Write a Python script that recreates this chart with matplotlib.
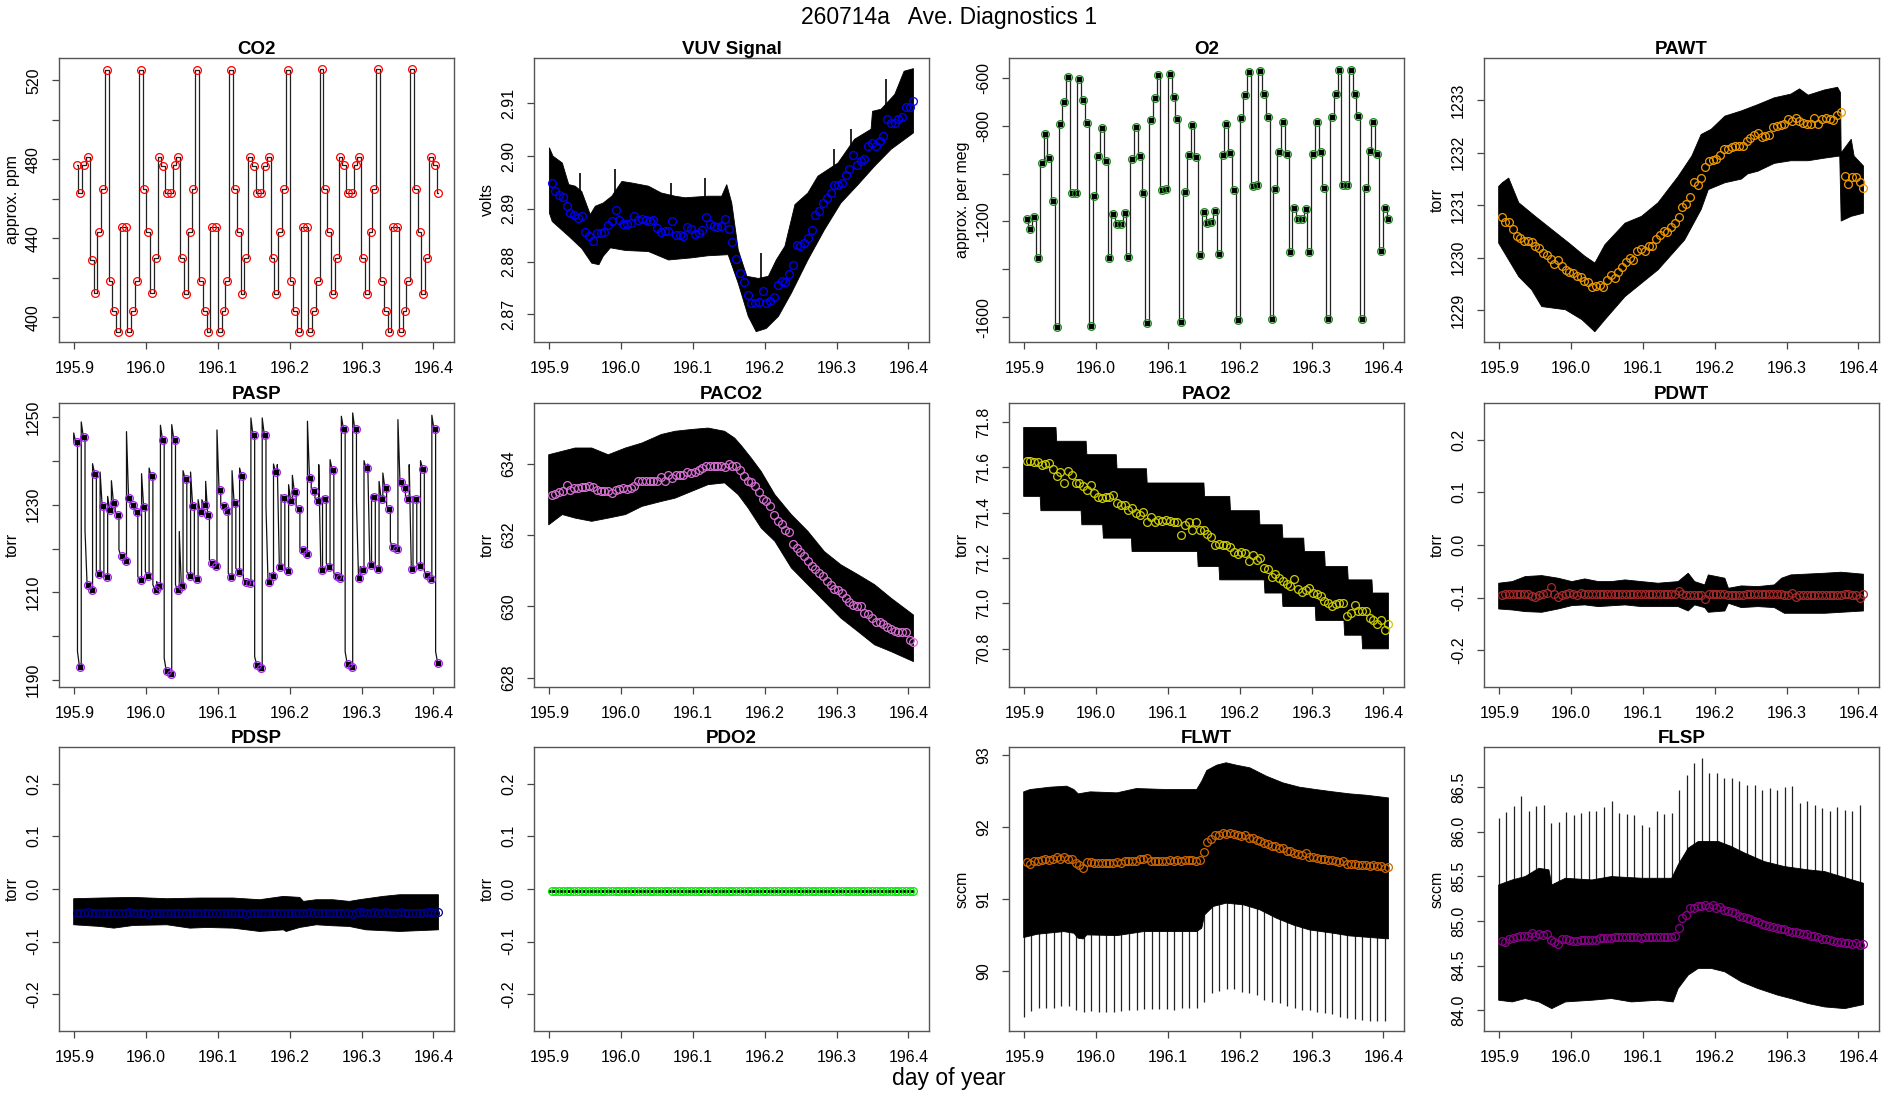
import numpy as np
import matplotlib
matplotlib.use('Agg')
import matplotlib.pyplot as plt

plt.rcParams['font.family'] = ['Liberation Sans', 'DejaVu Sans']

# sample grid of the averaged points (day of year)
t0 = 195.903
dt = 0.00525
# grid of the flow-check spikes
spk_t0 = 195.899
spk_dt = 0.01048

# ---------------- averaged points ----------------
co2 = [477, 463, 477, 481, 428.8, 412.4, 443, 465, 525.4, 418.6,
       403.4, 392.7, 445.9, 445.9, 392.7, 403.4, 418.6, 525.4, 465, 443,
       412.4, 429.8, 481, 476.5, 463, 463, 477, 481, 429.8, 412,
       443, 465, 525.3, 418.6, 403.4, 392.7, 445.9, 445.9, 392.7, 403.4,
       418.6, 525.3, 465, 443, 412, 429.8, 481, 476.5, 463, 463,
       476.5, 481, 429.8, 412, 443, 465, 525.4, 418.6, 403.4, 392.7,
       445.9, 445.9, 392.7, 403.4, 418.6, 525.6, 465, 443, 412, 429.8,
       481, 477, 463, 463, 477, 481, 429.8, 412, 443, 465,
       525.8, 418.6, 403.4, 392.7, 445.9, 445.9, 392.7, 403.4, 418.6, 525.8,
       465, 443, 412, 429.8, 481, 477, 463]

vuv = [2.8949, 2.8933, 2.8927, 2.8922, 2.8905, 2.8893, 2.8889, 2.8883, 2.8887, 2.8856,
       2.8848, 2.8839, 2.8854, 2.8855, 2.8857, 2.8870, 2.8876, 2.8897, 2.8879, 2.8872,
       2.8871, 2.8873, 2.8886, 2.8878, 2.8881, 2.8878, 2.8877, 2.8878, 2.8864, 2.8856,
       2.8858, 2.8858, 2.8876, 2.8851, 2.8850, 2.8848, 2.8865, 2.8862, 2.8853, 2.8855,
       2.8860, 2.8884, 2.8871, 2.8867, 2.8865, 2.8867, 2.8881, 2.8862, 2.8838, 2.8805,
       2.8778, 2.8762, 2.8737, 2.8721, 2.8721, 2.8723, 2.8744, 2.8721, 2.8726, 2.8732,
       2.8755, 2.8764, 2.8761, 2.8776, 2.8794, 2.8832, 2.8829, 2.8835, 2.8845, 2.8860,
       2.8889, 2.8895, 2.8912, 2.8921, 2.8930, 2.8945, 2.8946, 2.8949, 2.8965, 2.8976,
       2.9003, 2.8984, 2.8990, 2.8995, 2.9019, 2.9025, 2.9020, 2.9028, 2.9039, 2.9071,
       2.9063, 2.9062, 2.9070, 2.9075, 2.9094, 2.9094, 2.9104]

o2 = [-1191, -1232, -1183, -1354, -957, -837, -935, -1115, -1642, -792,
      -702, -597, -1083, -1080, -606, -693, -790, -1635, -1094, -928,
      -811, -949, -1354, -1170, -1212, -1212, -1165, -1349, -938, -806,
      -928, -1083, -1625, -777, -684, -589, -1069, -1064, -586, -681,
      -774, -1620, -1077, -921, -797, -932, -1339, -1161, -1207, -1204,
      -1158, -1336, -924, -792, -914, -1070, -1611, -767, -673, -576,
      -1052, -1050, -572, -670, -765, -1608, -1063, -911, -787, -918,
      -1329, -1145, -1190, -1190, -1148, -1327, -918, -787, -910, -1062,
      -1607, -765, -670, -569, -1046, -1046, -568, -667, -762, -1607,
      -1062, -908, -785, -917, -1325, -1145, -1191]

pawt = [1230.771, 1230.682, 1230.675, 1230.554, 1230.421, 1230.376, 1230.325, 1230.325, 1230.293, 1230.217,
        1230.185, 1230.089, 1230.045, 1229.975, 1229.879, 1229.962, 1229.835, 1229.771, 1229.726, 1229.707,
        1229.644, 1229.631, 1229.567, 1229.535, 1229.440, 1229.465, 1229.478, 1229.440, 1229.580, 1229.675,
        1229.624, 1229.726, 1229.815, 1229.911, 1229.994, 1229.962, 1230.134, 1230.166, 1230.121, 1230.217,
        1230.229, 1230.357, 1230.440, 1230.516, 1230.491, 1230.580, 1230.663, 1230.771, 1230.962, 1231.026,
        1231.153, 1231.440, 1231.382, 1231.529, 1231.733, 1231.854, 1231.873, 1231.885, 1231.962, 1232.077,
        1232.077, 1232.115, 1232.127, 1232.127, 1232.140, 1232.223, 1232.287, 1232.350, 1232.382, 1232.299,
        1232.319, 1232.350, 1232.497, 1232.510, 1232.529, 1232.554, 1232.650, 1232.605, 1232.669, 1232.605,
        1232.561, 1232.554, 1232.541, 1232.656, 1232.554, 1232.650, 1232.669, 1232.637, 1232.624, 1232.713,
        1232.777, 1231.554, 1231.408, 1231.535, 1231.541, 1231.440, 1231.325]

pasp = [1244.22, 1192.96, 1245.44, 1211.75, 1210.61, 1237.07, 1214.26, 1229.62, 1213.42, 1228.86,
        1230.38, 1227.57, 1218.21, 1217.22, 1231.52, 1229.85, 1228.25, 1212.74, 1229.39, 1213.80,
        1236.46, 1210.61, 1211.37, 1244.83, 1192.20, 1191.44, 1244.83, 1210.61, 1211.37, 1235.93,
        1213.80, 1229.62, 1213.04, 1228.33, 1229.85, 1227.57, 1216.69, 1216.08, 1233.42, 1229.62,
        1228.63, 1213.42, 1230.38, 1214.64, 1236.62, 1212.36, 1212.13, 1245.82, 1193.49, 1192.73,
        1245.97, 1212.28, 1213.80, 1237.45, 1215.70, 1231.52, 1214.94, 1230.91, 1232.81, 1229.09,
        1219.58, 1218.82, 1236.08, 1233.04, 1230.91, 1215.17, 1231.37, 1215.78, 1237.98, 1213.80,
        1213.27, 1247.26, 1193.72, 1192.96, 1247.26, 1213.27, 1215.02, 1238.36, 1216.16, 1231.67,
        1215.32, 1231.29, 1233.80, 1229.09, 1220.26, 1219.88, 1235.09, 1233.80, 1231.29, 1215.32,
        1231.37, 1215.93, 1238.21, 1214.03, 1213.12, 1247.26, 1193.88]
# top of the pressure overshoot at the start of each sample
pasp_peak = [1246.35, 1196.54, 1248.86, 1224.07, 1211.75, 1239.35, 1214.79, 1237.45, 1214.03, 1231.90,
             1235.47, 1228.48, 1219.73, 1217.83, 1246.65, 1230.38, 1228.86, 1213.65, 1237.07, 1214.79,
             1238.36, 1211.75, 1212.51, 1248.10, 1195.02, 1191.97, 1248.25, 1211.75, 1223.92, 1237.76,
             1214.79, 1237.45, 1213.65, 1231.14, 1231.14, 1235.32, 1217.45, 1216.69, 1247.03, 1230.00,
             1229.24, 1214.41, 1237.76, 1215.55, 1238.36, 1212.89, 1212.51, 1249.77, 1195.40, 1193.11,
             1249.77, 1229.47, 1214.41, 1239.28, 1239.12, 1232.28, 1215.70, 1234.56, 1236.69, 1229.62,
             1220.11, 1219.35, 1249.01, 1233.80, 1231.52, 1239.12, 1231.90, 1216.69, 1240.27, 1214.41,
             1214.03, 1250.15, 1196.54, 1193.49, 1250.91, 1230.76, 1215.93, 1240.04, 1239.28, 1232.28,
             1215.93, 1235.32, 1237.22, 1229.62, 1221.63, 1220.49, 1249.39, 1234.56, 1231.90, 1239.12,
             1231.90, 1216.69, 1240.04, 1214.79, 1213.65, 1250.38, 1196.54]

paco2 = [633.119, 633.166, 633.203, 633.250, 633.419, 633.278, 633.325, 633.325, 633.344, 633.353,
         633.391, 633.344, 633.259, 633.250, 633.231, 633.231, 633.184, 633.278, 633.306, 633.325,
         633.306, 633.325, 633.391, 633.513, 633.513, 633.513, 633.513, 633.513, 633.513, 633.625,
         633.513, 633.681, 633.606, 633.700, 633.700, 633.681, 633.775, 633.747, 633.775, 633.841,
         633.888, 633.934, 633.934, 633.934, 633.934, 633.953, 633.916, 634.000, 633.934, 633.934,
         633.841, 633.653, 633.531, 633.484, 633.391, 633.213, 633.025, 632.950, 632.828, 632.575,
         632.388, 632.313, 632.153, 632.088, 631.747, 631.638, 631.516, 631.403, 631.263, 631.141,
         631.056, 630.934, 630.841, 630.700, 630.606, 630.494, 630.466, 630.372, 630.250, 630.119,
         630.044, 630.025, 630.016, 629.809, 629.781, 629.669, 629.556, 629.575, 629.500, 629.434,
         629.359, 629.322, 629.294, 629.275, 629.294, 629.059, 628.994]

pao2 = [71.628, 71.629, 71.624, 71.622, 71.612, 71.615, 71.619, 71.594, 71.563, 71.579,
        71.529, 71.584, 71.568, 71.529, 71.529, 71.519, 71.500, 71.524, 71.487, 71.468,
        71.465, 71.468, 71.469, 71.479, 71.443, 71.432, 71.434, 71.410, 71.421, 71.399,
        71.391, 71.403, 71.357, 71.381, 71.357, 71.369, 71.362, 71.369, 71.362, 71.359,
        71.359, 71.300, 71.344, 71.357, 71.325, 71.357, 71.322, 71.325, 71.307, 71.293,
        71.259, 71.263, 71.259, 71.259, 71.251, 71.229, 71.219, 71.229, 71.222, 71.188,
        71.212, 71.190, 71.200, 71.156, 71.153, 71.115, 71.131, 71.112, 71.097, 71.087,
        71.078, 71.107, 71.065, 71.050, 71.060, 71.068, 71.046, 71.041, 71.035, 71.012,
        71.001, 70.987, 70.999, 71.001, 71.004, 70.943, 70.957, 70.994, 70.969, 70.965,
        70.965, 70.935, 70.925, 70.909, 70.925, 70.884, 70.909]

pdwt = [-0.0949, -0.0937, -0.0937, -0.0937, -0.0937, -0.0937, -0.0937, -0.0937, -0.0962, -0.0981,
        -0.0949, -0.0937, -0.0918, -0.0803, -0.0937, -0.0981, -0.0949, -0.0930, -0.0918, -0.0937,
        -0.0949, -0.0918, -0.0930, -0.0937, -0.0937, -0.0937, -0.0937, -0.0930, -0.0937, -0.0937,
        -0.0937, -0.0937, -0.0930, -0.0937, -0.0937, -0.0930, -0.0937, -0.0937, -0.0937, -0.0937,
        -0.0937, -0.0937, -0.0937, -0.0937, -0.0937, -0.0937, -0.0937, -0.0873, -0.0937, -0.0943,
        -0.0943, -0.0943, -0.0943, -0.0943, -0.1025, -0.0937, -0.0937, -0.0937, -0.0937, -0.0937,
        -0.0943, -0.0943, -0.0943, -0.0943, -0.0943, -0.0937, -0.0937, -0.0937, -0.0937, -0.0937,
        -0.0937, -0.0937, -0.0937, -0.0937, -0.0937, -0.0943, -0.0943, -0.0918, -0.0981, -0.0949,
        -0.0943, -0.0943, -0.0943, -0.0943, -0.0943, -0.0943, -0.0943, -0.0943, -0.0943, -0.0943,
        -0.0943, -0.0937, -0.0937, -0.0943, -0.0943, -0.1013, -0.0924]

pdsp = [-0.0457, -0.0457, -0.0450, -0.0444, -0.0457, -0.0457, -0.0463, -0.0457, -0.0457, -0.0450,
        -0.0457, -0.0457, -0.0463, -0.0457, -0.0444, -0.0457, -0.0463, -0.0457, -0.0450, -0.0476,
        -0.0457, -0.0457, -0.0463, -0.0457, -0.0457, -0.0457, -0.0463, -0.0457, -0.0457, -0.0457,
        -0.0457, -0.0463, -0.0463, -0.0457, -0.0457, -0.0463, -0.0463, -0.0457, -0.0450, -0.0457,
        -0.0457, -0.0463, -0.0457, -0.0457, -0.0463, -0.0476, -0.0457, -0.0457, -0.0457, -0.0457,
        -0.0457, -0.0450, -0.0457, -0.0457, -0.0457, -0.0457, -0.0457, -0.0457, -0.0457, -0.0457,
        -0.0457, -0.0450, -0.0444, -0.0457, -0.0457, -0.0457, -0.0457, -0.0457, -0.0450, -0.0457,
        -0.0457, -0.0463, -0.0463, -0.0476, -0.0463, -0.0444, -0.0444, -0.0450, -0.0450, -0.0444,
        -0.0457, -0.0457, -0.0444, -0.0450, -0.0457, -0.0457, -0.0444, -0.0450, -0.0457, -0.0457,
        -0.0450, -0.0457, -0.0450, -0.0444, -0.0444, -0.0450, -0.0444]

pdo2 = [-0.0038, -0.0038, -0.0038, -0.0038, -0.0038, -0.0038, -0.0038, -0.0038, -0.0038, -0.0038,
        -0.0038, -0.0038, -0.0038, -0.0038, -0.0038, -0.0038, -0.0038, -0.0038, -0.0038, -0.0038,
        -0.0038, -0.0038, -0.0038, -0.0038, -0.0038, -0.0038, -0.0038, -0.0038, -0.0038, -0.0038,
        -0.0038, -0.0038, -0.0038, -0.0038, -0.0038, -0.0038, -0.0038, -0.0038, -0.0038, -0.0038,
        -0.0038, -0.0038, -0.0038, -0.0038, -0.0038, -0.0038, -0.0038, -0.0038, -0.0038, -0.0038,
        -0.0038, -0.0038, -0.0038, -0.0038, -0.0038, -0.0038, -0.0038, -0.0038, -0.0038, -0.0038,
        -0.0038, -0.0038, -0.0038, -0.0038, -0.0038, -0.0038, -0.0038, -0.0038, -0.0038, -0.0038,
        -0.0038, -0.0038, -0.0038, -0.0038, -0.0038, -0.0038, -0.0038, -0.0038, -0.0038, -0.0038,
        -0.0038, -0.0038, -0.0038, -0.0038, -0.0038, -0.0038, -0.0038, -0.0038, -0.0038, -0.0038,
        -0.0038, -0.0038, -0.0038, -0.0038, -0.0038, -0.0038, -0.0038]

flwt = [91.508, 91.484, 91.522, 91.531, 91.545, 91.554, 91.545, 91.559, 91.577, 91.554,
        91.577, 91.554, 91.559, 91.498, 91.475, 91.429, 91.508, 91.508, 91.498, 91.498,
        91.498, 91.494, 91.498, 91.494, 91.508, 91.498, 91.522, 91.522, 91.531, 91.531,
        91.554, 91.554, 91.568, 91.531, 91.531, 91.522, 91.531, 91.531, 91.536, 91.531,
        91.536, 91.531, 91.536, 91.540, 91.536, 91.531, 91.545, 91.647, 91.791, 91.833,
        91.893, 91.884, 91.912, 91.907, 91.921, 91.902, 91.893, 91.879, 91.893, 91.847,
        91.847, 91.824, 91.800, 91.777, 91.763, 91.740, 91.731, 91.707, 91.703, 91.670,
        91.661, 91.638, 91.628, 91.605, 91.638, 91.582, 91.577, 91.568, 91.559, 91.554,
        91.545, 91.536, 91.531, 91.512, 91.522, 91.489, 91.489, 91.484, 91.475, 91.475,
        91.466, 91.461, 91.466, 91.452, 91.461, 91.429, 91.438]

flsp = [84.775, 84.760, 84.798, 84.813, 84.824, 84.832, 84.832, 84.832, 84.862, 84.835,
        84.854, 84.843, 84.850, 84.787, 84.768, 84.738, 84.794, 84.794, 84.787, 84.779,
        84.779, 84.787, 84.787, 84.787, 84.787, 84.787, 84.805, 84.805, 84.805, 84.813,
        84.817, 84.817, 84.817, 84.817, 84.824, 84.817, 84.817, 84.813, 84.817, 84.817,
        84.817, 84.820, 84.820, 84.824, 84.817, 84.817, 84.832, 84.925, 85.037, 85.067,
        85.142, 85.150, 85.172, 85.172, 85.180, 85.161, 85.180, 85.150, 85.161, 85.124,
        85.116, 85.105, 85.086, 85.056, 85.049, 85.037, 85.019, 85.004, 84.993, 84.963,
        84.955, 84.944, 84.933, 84.918, 84.910, 84.906, 84.891, 84.880, 84.873, 84.869,
        84.854, 84.850, 84.835, 84.832, 84.824, 84.798, 84.798, 84.787, 84.779, 84.760,
        84.768, 84.757, 84.749, 84.742, 84.749, 84.731, 84.738]

# ---------------- raw-data envelopes (upper / lower edge of the black trace) ----------------
vuv_hi_t = [195.900, 195.905, 195.918, 195.927, 195.936, 195.945, 195.957, 195.964, 195.975, 195.987,
            196.001, 196.015, 196.038, 196.056, 196.075, 196.089, 196.121, 196.140, 196.147, 196.154,
            196.163, 196.175, 196.191, 196.205, 196.216, 196.228, 196.242, 196.260, 196.274, 196.302,
            196.325, 196.348, 196.350, 196.362, 196.381, 196.394, 196.407]
vuv_hi = [2.9016, 2.9000, 2.8987, 2.8946, 2.8943, 2.8933, 2.8889, 2.8905, 2.8911, 2.8924,
          2.8952, 2.8949, 2.8943, 2.8930, 2.8924, 2.8921, 2.8924, 2.8924, 2.8946, 2.8911,
          2.8822, 2.8772, 2.8768, 2.8772, 2.8803, 2.8829, 2.8908, 2.8930, 2.8962, 2.8987,
          2.9032, 2.9051, 2.9085, 2.9089, 2.9117, 2.9161, 2.9166]
vuv_lo_t = [195.900, 195.904, 195.927, 195.945, 195.959, 195.969, 195.975, 195.985, 196.006, 196.038,
            196.066, 196.098, 196.121, 196.149, 196.163, 196.177, 196.188, 196.202, 196.219, 196.237,
            196.260, 196.283, 196.306, 196.330, 196.353, 196.376, 196.407]
vuv_lo = [2.8892, 2.8876, 2.8848, 2.8825, 2.8797, 2.8794, 2.8810, 2.8826, 2.8821, 2.8819,
          2.8803, 2.8807, 2.8811, 2.8813, 2.8759, 2.8696, 2.8667, 2.8673, 2.8696, 2.8740,
          2.8803, 2.8860, 2.8911, 2.8946, 2.8981, 2.9013, 2.9044]
vuv_spk_t = [195.943, 195.992, 196.070, 196.117, 196.195, 196.297, 196.320, 196.369]
vuv_spk = [2.8968, 2.8975, 2.8949, 2.8959, 2.8816, 2.9013, 2.9051, 2.9146]

pawt_hi_t = [195.899, 195.904, 195.913, 195.927, 195.950, 195.973, 195.997, 196.019, 196.033, 196.047,
             196.075, 196.098, 196.121, 196.149, 196.168, 196.181, 196.195, 196.214, 196.237, 196.260,
             196.283, 196.306, 196.318, 196.330, 196.353, 196.371, 196.375, 196.376, 196.390, 196.394,
             196.407]
pawt_hi = [1231.36, 1231.43, 1231.52, 1231.05, 1230.79, 1230.54, 1230.28, 1230.03, 1229.90, 1230.25,
           1230.66, 1230.79, 1231.05, 1231.55, 1231.94, 1232.35, 1232.45, 1232.70, 1232.80, 1232.92,
           1233.05, 1233.12, 1233.22, 1233.10, 1233.20, 1233.25, 1233.15, 1232.00, 1232.26, 1231.94,
           1231.75]
pawt_lo_t = [195.899, 195.927, 195.945, 195.959, 195.992, 196.015, 196.033, 196.047, 196.075, 196.121,
             196.158, 196.181, 196.191, 196.214, 196.237, 196.246, 196.260, 196.283, 196.306, 196.330,
             196.353, 196.374, 196.376, 196.390, 196.407]
pawt_lo = [1230.28, 1229.64, 1229.39, 1229.07, 1229.01, 1228.82, 1228.59, 1228.82, 1229.26, 1229.77,
           1230.34, 1230.92, 1231.30, 1231.43, 1231.50, 1231.60, 1231.65, 1231.80, 1231.85, 1231.85,
           1231.90, 1231.94, 1230.70, 1230.79, 1230.85]

paco2_hi_t = [195.899, 195.936, 195.959, 195.982, 196.006, 196.029, 196.056, 196.075, 196.098, 196.121,
              196.144, 196.158, 196.168, 196.181, 196.195, 196.214, 196.237, 196.260, 196.283, 196.306,
              196.330, 196.353, 196.376, 196.407]
paco2_hi = [634.26, 634.45, 634.45, 634.26, 634.45, 634.59, 634.83, 634.92, 634.97, 635.01,
            634.92, 634.73, 634.50, 634.17, 633.79, 633.14, 632.58, 632.11, 631.54, 631.17,
            630.89, 630.61, 630.23, 629.76]
paco2_lo_t = [195.899, 195.918, 195.936, 195.959, 195.982, 196.006, 196.029, 196.056, 196.075, 196.098,
              196.121, 196.144, 196.163, 196.177, 196.195, 196.214, 196.237, 196.260, 196.283, 196.306,
              196.330, 196.353, 196.376, 196.407]
paco2_lo = [632.29, 632.58, 632.48, 632.39, 632.48, 632.58, 632.81, 632.95, 633.04, 633.23,
            633.42, 633.47, 633.14, 632.76, 632.20, 631.83, 631.08, 630.61, 630.14, 629.67,
            629.29, 628.92, 628.73, 628.45]

pao2_hi_t = [195.899, 195.944, 195.945, 195.986, 195.987, 196.028, 196.029, 196.070, 196.071, 196.150,
             196.151, 196.186, 196.187, 196.227, 196.228, 196.259, 196.260, 196.289, 196.290, 196.318,
             196.319, 196.350, 196.351, 196.384, 196.385, 196.407]
pao2_hi = [71.776, 71.776, 71.715, 71.715, 71.656, 71.656, 71.594, 71.594, 71.531, 71.531,
           71.472, 71.472, 71.409, 71.409, 71.347, 71.347, 71.288, 71.288, 71.229, 71.229,
           71.163, 71.163, 71.104, 71.104, 71.046, 71.046]
pao2_lo_t = [195.899, 195.922, 195.923, 195.979, 195.980, 196.009, 196.010, 196.049, 196.050, 196.141,
             196.142, 196.171, 196.172, 196.234, 196.235, 196.259, 196.260, 196.305, 196.306, 196.345,
             196.346, 196.370, 196.371, 196.407]
pao2_lo = [71.472, 71.472, 71.409, 71.409, 71.347, 71.347, 71.288, 71.288, 71.229, 71.229,
           71.163, 71.163, 71.104, 71.104, 71.046, 71.046, 70.987, 70.987, 70.925, 70.925,
           70.860, 70.860, 70.800, 70.800]

pdwt_hi_t = [195.899, 195.918, 195.936, 195.959, 195.982, 196.001, 196.019, 196.038, 196.056, 196.075,
             196.098, 196.121, 196.149, 196.163, 196.172, 196.186, 196.191, 196.214, 196.219, 196.237,
             196.260, 196.283, 196.293, 196.306, 196.353, 196.376, 196.407]
pdwt_hi = [-0.0727, -0.0696, -0.0601, -0.0582, -0.0632, -0.0696, -0.0645, -0.0696, -0.0696, -0.0664,
           -0.0696, -0.0727, -0.0696, -0.0537, -0.0696, -0.0759, -0.0569, -0.0632, -0.0823, -0.0778,
           -0.0791, -0.0759, -0.0632, -0.0569, -0.0537, -0.0518, -0.0556]
pdwt_lo_t = [195.899, 195.918, 195.936, 195.959, 195.982, 196.001, 196.019, 196.038, 196.075, 196.098,
             196.121, 196.149, 196.163, 196.172, 196.186, 196.191, 196.214, 196.219, 196.237, 196.260,
             196.283, 196.297, 196.353, 196.407]
pdwt_lo = [-0.1216, -0.1235, -0.1266, -0.1279, -0.1216, -0.1152, -0.1139, -0.1171, -0.1139, -0.1171,
           -0.1171, -0.1171, -0.1254, -0.1139, -0.1190, -0.1279, -0.1254, -0.1108, -0.1190, -0.1171,
           -0.1190, -0.1298, -0.1298, -0.1254]

pdsp_hi_t = [195.899, 195.936, 195.982, 196.029, 196.075, 196.121, 196.158, 196.191, 196.214, 196.219,
             196.237, 196.260, 196.283, 196.297, 196.330, 196.353, 196.407]
pdsp_hi = [-0.0184, -0.0171, -0.0159, -0.0184, -0.0171, -0.0171, -0.0203, -0.0140, -0.0159, -0.0235,
           -0.0203, -0.0203, -0.0235, -0.0203, -0.0140, -0.0108, -0.0108]
pdsp_lo_t = [195.899, 195.936, 195.955, 195.982, 196.029, 196.061, 196.084, 196.121, 196.158, 196.191,
             196.195, 196.214, 196.237, 196.260, 196.283, 196.306, 196.353, 196.407]
pdsp_lo = [-0.0679, -0.0711, -0.0743, -0.0692, -0.0679, -0.0743, -0.0730, -0.0743, -0.0806, -0.0775,
           -0.0806, -0.0730, -0.0679, -0.0698, -0.0711, -0.0775, -0.0806, -0.0775]

pdo2_hi_t = [195.899, 196.407]
pdo2_hi = [-0.0020, -0.0020]
pdo2_lo_t = [195.899, 196.407]
pdo2_lo = [-0.0058, -0.0058]

flwt_hi_t = [195.899, 195.908, 195.936, 195.959, 195.969, 195.975, 195.992, 196.029, 196.056, 196.098,
             196.140, 196.147, 196.154, 196.168, 196.181, 196.195, 196.214, 196.237, 196.260, 196.283,
             196.306, 196.330, 196.353, 196.376, 196.407]
flwt_hi = [92.488, 92.520, 92.553, 92.567, 92.520, 92.460, 92.488, 92.474, 92.534, 92.520,
           92.520, 92.636, 92.785, 92.859, 92.892, 92.859, 92.822, 92.706, 92.613, 92.553,
           92.520, 92.488, 92.460, 92.441, 92.404]
flwt_lo_t = [195.899, 195.918, 195.955, 195.969, 195.975, 195.982, 195.987, 196.029, 196.066, 196.140,
             196.147, 196.151, 196.163, 196.181, 196.205, 196.228, 196.251, 196.274, 196.297, 196.330,
             196.353, 196.407]
flwt_lo = [90.463, 90.509, 90.546, 90.523, 90.454, 90.444, 90.500, 90.490, 90.546, 90.546,
           90.593, 90.778, 90.895, 90.941, 90.918, 90.848, 90.732, 90.639, 90.569, 90.523,
           90.486, 90.444]
flwt_spk = [89.364, 89.443, 89.489, 89.489, 89.480, 89.517, 89.517, 89.457, 89.433, 89.443,
            89.433, 89.433, 89.433, 89.443, 89.452, 89.461, 89.470, 89.470, 89.470, 89.470,
            89.461, 89.480, 89.480, 89.489, 89.573, 89.698, 89.721, 89.745, 89.745, 89.712,
            89.698, 89.666, 89.596, 89.573, 89.549, 89.517, 89.480, 89.457, 89.457, 89.433,
            89.419, 89.396, 89.364, 89.350, 89.327, 89.317, 89.308, 89.303, 89.303]

flsp_hi_t = [195.899, 195.918, 195.936, 195.955, 195.969, 195.973, 195.992, 196.029, 196.056, 196.098,
             196.140, 196.149, 196.163, 196.177, 196.205, 196.223, 196.242, 196.269, 196.297, 196.330,
             196.353, 196.376, 196.407]
flsp_hi = [85.404, 85.460, 85.498, 85.591, 85.573, 85.404, 85.479, 85.460, 85.498, 85.479,
           85.479, 85.629, 85.816, 85.891, 85.891, 85.835, 85.760, 85.666, 85.610, 85.573,
           85.554, 85.498, 85.423]
flsp_lo_t = [195.899, 195.918, 195.936, 195.955, 195.973, 195.992, 196.029, 196.056, 196.084, 196.121,
             196.142, 196.149, 196.163, 196.177, 196.195, 196.214, 196.237, 196.260, 196.288, 196.306,
             196.330, 196.353, 196.381, 196.407]
flsp_lo = [84.113, 84.094, 84.132, 84.094, 84.019, 84.094, 84.113, 84.132, 84.094, 84.113,
           84.094, 84.244, 84.394, 84.469, 84.469, 84.431, 84.319, 84.244, 84.169, 84.132,
           84.076, 84.038, 84.019, 84.064]
flsp_spk = [86.153, 86.220, 86.284, 86.396, 86.235, 86.284, 86.295, 86.097, 86.108, 86.220,
            86.183, 86.209, 86.235, 86.235, 86.272, 86.347, 86.209, 86.201, 86.190, 86.078,
            86.048, 86.228, 86.198, 86.209, 86.471, 86.632, 86.770, 86.826, 86.658, 86.658,
            86.602, 86.602, 86.564, 86.527, 86.519, 86.471, 86.490, 86.471, 86.497, 86.508,
            86.321, 86.340, 86.302, 86.265, 86.235, 86.272, 86.246, 86.228, 86.295]

# ---------------- layout ----------------
fig = plt.figure(figsize=(19, 11), dpi=100)
col_left = [0.0311, 0.2811, 0.5311, 0.7811]
row_bot = [0.6891, 0.3755, 0.0627]
w, h = 0.2079, 0.2582
xt = [195.9, 196.0, 196.1, 196.2, 196.3, 196.4]


def tgrid(vals):
    return t0 + dt * np.arange(len(vals))


def setup(ax, title, ylab, ylim, yt, ylabs):
    ax.set_xlim(195.8787, 196.4288)
    ax.set_ylim(*ylim)
    ax.set_xticks(xt)
    ax.set_xticklabels(['%.1f' % v for v in xt])
    ax.set_yticks(yt)
    ax.set_yticklabels(ylabs, rotation=90, va='center')
    ax.tick_params(direction='out', length=5, width=0.9, color='#444444',
                   labelsize=11.5, labelcolor='black')
    ax.tick_params(axis='y', pad=8)
    ax.tick_params(axis='x', pad=9)
    for s in ax.spines.values():
        s.set_color('#555555')
        s.set_linewidth(1.0)
    ax.set_title(title, fontweight='bold', fontsize=13.5, pad=2.5)
    ax.set_ylabel(ylab, fontsize=11.5)
    ax.yaxis.set_label_coords(-0.100, 0.5)


def band(ax, ht, hv, lt, lv):
    n1 = min(len(ht), len(hv))
    n2 = min(len(lt), len(lv))
    px = list(ht[:n1]) + list(lt[:n2])[::-1]
    py = list(hv[:n1]) + list(lv[:n2])[::-1]
    ax.fill(px, py, color='black', lw=0.6, zorder=2)


def circles(ax, vals, col):
    ax.plot(tgrid(vals), vals, 'o', mfc='none', mec=col, ms=5.6, mew=0.9, zorder=3)


def ax_at(c, r):
    return fig.add_axes([col_left[c], row_bot[r], w, h])


# CO2
ax = ax_at(0, 0)
ax.plot(tgrid(co2), co2, drawstyle='steps-mid', color='#222222', lw=0.9, zorder=2)
circles(ax, co2, '#FF0000')
setup(ax, 'CO2', 'approx. ppm', (387.5, 531.3), [400, 420, 440, 460, 480, 500, 520],
      ['400', '', '440', '', '480', '', '520'])

# VUV signal
ax = ax_at(1, 0)
band(ax, vuv_hi_t, vuv_hi, vuv_lo_t, vuv_lo)
ax.vlines(vuv_spk_t, np.interp(vuv_spk_t, vuv_hi_t, vuv_hi) - 0.001, vuv_spk, color='black', lw=1.2, zorder=2)
circles(ax, vuv, '#0000FF')
setup(ax, 'VUV Signal', 'volts', (2.86474, 2.91862), [2.87, 2.88, 2.89, 2.90, 2.91],
      ['2.87', '2.88', '2.89', '2.90', '2.91'])

# O2
ax = ax_at(2, 0)
ax.plot(tgrid(o2), o2, drawstyle='steps-mid', color='#222222', lw=0.9, zorder=2)
ax.plot(tgrid(o2), o2, 's', color='black', ms=2.2, zorder=2)
circles(ax, o2, '#228B22')
setup(ax, 'O2', 'approx. per meg', (-1703.2, -517.7), [-1600, -1400, -1200, -1000, -800, -600],
      ['-1600', '', '-1200', '', '-800', '-600'])

# PAWT
ax = ax_at(3, 0)
band(ax, pawt_hi_t, pawt_hi, pawt_lo_t, pawt_lo)
circles(ax, pawt, '#EE9A00')
setup(ax, 'PAWT', 'torr', (1228.395, 1233.809), [1229, 1230, 1231, 1232, 1233],
      ['1229', '1230', '1231', '1232', '1233'])

# PASP: jump with overshoot at the start of every sample, then settle
ax = ax_at(0, 1)
tp = tgrid(pasp)
px, py = [], []
prev = pasp[0]
for i in range(len(pasp)):
    xa = tp[i] - 0.75 * dt
    px += [xa, xa, tp[i] - 0.2 * dt, xa + dt]
    py += [prev, pasp_peak[i], pasp[i], pasp[i]]
    prev = pasp[i]
ax.plot(px, py, color='#111111', lw=0.9, zorder=2)
ax.plot(tp, pasp, 's', color='black', ms=2.5, zorder=2)
circles(ax, pasp, '#A020F0')
setup(ax, 'PASP', 'torr', (1188.48, 1253.19), [1190, 1200, 1210, 1220, 1230, 1240, 1250],
      ['1190', '', '1210', '', '1230', '', '1250'])

# PACO2
ax = ax_at(1, 1)
band(ax, paco2_hi_t, paco2_hi, paco2_lo_t, paco2_lo)
circles(ax, paco2, '#DA70D6')
setup(ax, 'PACO2', 'torr', (627.7375, 635.716), [628, 630, 632, 634], ['628', '630', '632', '634'])

# PAO2
ax = ax_at(2, 1)
band(ax, pao2_hi_t, pao2_hi, pao2_lo_t, pao2_lo)
circles(ax, pao2, '#CDCD00')
setup(ax, 'PAO2', 'torr', (70.632, 71.884), [70.8, 71.0, 71.2, 71.4, 71.6, 71.8],
      ['70.8', '71.0', '71.2', '71.4', '71.6', '71.8'])

pd_ticks = [-0.2, -0.1, 0.0, 0.1, 0.2]
pd_labs = ['-0.2', '-0.1', '0.0', '0.1', '0.2']

# PDWT
ax = ax_at(3, 1)
band(ax, pdwt_hi_t, pdwt_hi, pdwt_lo_t, pdwt_lo)
circles(ax, pdwt, '#A52A2A')
setup(ax, 'PDWT', 'torr', (-0.2697, 0.2697), pd_ticks, pd_labs)

# PDSP
ax = ax_at(0, 2)
band(ax, pdsp_hi_t, pdsp_hi, pdsp_lo_t, pdsp_lo)
circles(ax, pdsp, '#00008B')
setup(ax, 'PDSP', 'torr', (-0.2697, 0.2697), pd_ticks, pd_labs)

# PDO2
ax = ax_at(1, 2)
band(ax, pdo2_hi_t, pdo2_hi, pdo2_lo_t, pdo2_lo)
circles(ax, pdo2, '#00EE00')
setup(ax, 'PDO2', 'torr', (-0.2697, 0.2697), pd_ticks, pd_labs)

# FLWT
ax = ax_at(2, 2)
st = spk_t0 + spk_dt * np.arange(len(flwt_spk))
ax.vlines(st, 91.5, flwt_spk, color='#222222', lw=0.9, zorder=1)
band(ax, flwt_hi_t, flwt_hi, flwt_lo_t, flwt_lo)
circles(ax, flwt, '#CD6600')
setup(ax, 'FLWT', 'sccm', (89.164, 93.111), [90, 91, 92, 93], ['90', '91', '92', '93'])

# FLSP
ax = ax_at(3, 2)
st = spk_t0 + spk_dt * np.arange(len(flsp_spk))
ax.vlines(st, 84.9, flsp_spk, color='#222222', lw=0.9, zorder=1)
band(ax, flsp_hi_t, flsp_hi, flsp_lo_t, flsp_lo)
circles(ax, flsp, '#8B008B')
setup(ax, 'FLSP', 'sccm', (83.768, 86.949), [84.0, 84.5, 85.0, 85.5, 86.0, 86.5],
      ['84.0', '84.5', '85.0', '85.5', '86.0', '86.5'])

fig.text(0.4995, 0.9845, '260714a   Ave. Diagnostics 1', ha='center', va='center', fontsize=16.5)
fig.text(0.4995, 0.020, 'day of year', ha='center', va='center', fontsize=16.5)

fig.savefig('out.png', dpi=100)
